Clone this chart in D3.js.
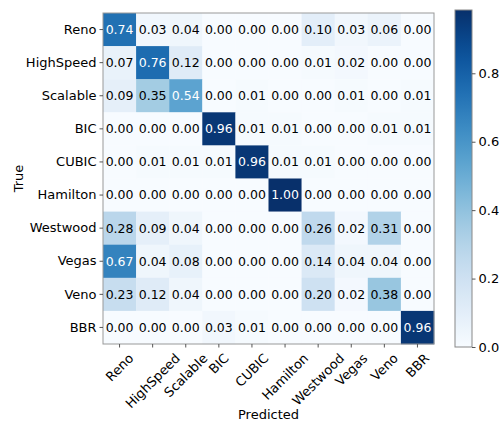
<!DOCTYPE html>
<html>
<head>
<meta charset="utf-8">
<script src="https://cdn.jsdelivr.net/npm/d3@7"></script>
<style>
  body { margin: 0; background: #fff; }
  text { font-family: "DejaVu Sans", sans-serif; fill: #000; }
</style>
</head>
<body>
<div id="chart"></div>
<script>
var w = 499, h = 421;
var labels = ["Reno", "HighSpeed", "Scalable", "BIC", "CUBIC", "Hamilton", "Westwood", "Vegas", "Veno", "BBR"];
var matrix = [
  [0.74, 0.03, 0.04, 0.00, 0.00, 0.00, 0.10, 0.03, 0.06, 0.00],
  [0.07, 0.76, 0.12, 0.00, 0.00, 0.00, 0.01, 0.02, 0.00, 0.00],
  [0.09, 0.35, 0.54, 0.00, 0.01, 0.00, 0.00, 0.01, 0.00, 0.01],
  [0.00, 0.00, 0.00, 0.96, 0.01, 0.01, 0.00, 0.00, 0.01, 0.01],
  [0.00, 0.01, 0.01, 0.01, 0.96, 0.01, 0.01, 0.00, 0.00, 0.00],
  [0.00, 0.00, 0.00, 0.00, 0.00, 1.00, 0.00, 0.00, 0.00, 0.00],
  [0.28, 0.09, 0.04, 0.00, 0.00, 0.00, 0.26, 0.02, 0.31, 0.00],
  [0.67, 0.04, 0.08, 0.00, 0.00, 0.00, 0.14, 0.04, 0.04, 0.00],
  [0.23, 0.12, 0.04, 0.00, 0.00, 0.00, 0.20, 0.02, 0.38, 0.00],
  [0.00, 0.00, 0.00, 0.03, 0.01, 0.00, 0.00, 0.00, 0.00, 0.96]
];
var cbTicks = [0.0, 0.2, 0.4, 0.6, 0.8];
var vmax = 0.985;

var mLeft = 103, mTop = 13, size = 331;

var x = d3.scaleBand().domain(labels).range([mLeft, mLeft + size]);
var y = d3.scaleBand().domain(labels).range([mTop, mTop + size]);
var color = d3.scaleSequential(d3.interpolateBlues).domain([0, vmax]).clamp(true);

var svg = d3.select("#chart").append("svg")
  .attr("width", w)
  .attr("height", h);

// cells
var cells = [];
matrix.forEach(function(row, i) {
  row.forEach(function(v, j) {
    cells.push({ r: labels[i], c: labels[j], v: v });
  });
});

svg.selectAll("rect.cell")
  .data(cells)
  .enter()
  .append("rect")
  .attr("class", "cell")
  .attr("x", function(d) { return x(d.c); })
  .attr("y", function(d) { return y(d.r); })
  .attr("width", x.bandwidth() + 0.3)
  .attr("height", y.bandwidth() + 0.3)
  .attr("fill", function(d) { return color(d.v); });

svg.selectAll("text.val")
  .data(cells)
  .enter()
  .append("text")
  .attr("class", "val")
  .attr("x", function(d) { return x(d.c) + x.bandwidth() / 2; })
  .attr("y", function(d) { return y(d.r) + y.bandwidth() / 2; })
  .attr("text-anchor", "middle")
  .attr("dy", "0.35em")
  .style("font-size", "12.5px")
  .style("fill", function(d) { return d.v > 0.5 ? "#fff" : "#000"; })
  .text(function(d) { return d.v.toFixed(2); });

// frame
svg.append("rect")
  .attr("x", mLeft).attr("y", mTop)
  .attr("width", size).attr("height", size)
  .attr("fill", "none").attr("stroke", "#999").attr("stroke-width", 1);

// Y axis
var yAxis = svg.append("g")
  .attr("transform", "translate(" + mLeft + ",0)")
  .call(d3.axisLeft(y).tickSize(3.5).tickPadding(3));
yAxis.select(".domain").remove();
yAxis.selectAll("text").style("font-size", "13px").style("fill", "#000");
yAxis.selectAll("line").attr("stroke", "#555");

// X axis - labels rotated 45deg, bbox centred on the tick, top just below it
var xAxis = svg.append("g")
  .attr("transform", "translate(0," + (mTop + size) + ")")
  .call(d3.axisBottom(x).tickSize(3.5).tickPadding(3));
xAxis.select(".domain").remove();
xAxis.selectAll("line").attr("stroke", "#555");
var lineH = 14;
xAxis.selectAll("text")
  .style("font-size", "13px")
  .style("fill", "#000")
  .attr("text-anchor", "middle")
  .attr("dy", "0.35em")
  .each(function() {
    var len = this.getComputedTextLength();
    var half = (len + lineH) * Math.SQRT1_2 / 2;
    var cy = 7 + half;
    d3.select(this)
      .attr("y", cy)
      .attr("transform", "rotate(-45,0," + cy + ")");
  });

// axis titles
svg.append("text")
  .attr("x", mLeft + size / 2)
  .attr("y", 419)
  .attr("text-anchor", "middle")
  .style("font-size", "13px")
  .text("Predicted");

svg.append("text")
  .attr("transform", "translate(23," + (mTop + size / 2) + ") rotate(-90)")
  .attr("text-anchor", "middle")
  .style("font-size", "13px")
  .text("True");

// colorbar
var cbX = 455, cbW = 17, cbTop = 10, cbBottom = 347;
var cbScale = d3.scaleLinear().domain([0, vmax]).range([cbBottom, cbTop]);

var defs = svg.append("defs");
var grad = defs.append("linearGradient")
  .attr("id", "cbgrad")
  .attr("x1", 0).attr("y1", 1).attr("x2", 0).attr("y2", 0);
d3.range(0, 1.0001, 0.05).forEach(function(t) {
  grad.append("stop")
    .attr("offset", t)
    .attr("stop-color", color(t * vmax));
});

svg.append("rect")
  .attr("x", cbX).attr("y", cbTop)
  .attr("width", cbW).attr("height", cbBottom - cbTop)
  .attr("fill", "url(#cbgrad)")
  .attr("stroke", "#888").attr("stroke-width", 1);

var cbAxis = svg.append("g")
  .attr("transform", "translate(" + (cbX + cbW) + ",0)")
  .call(d3.axisRight(cbScale).tickValues(cbTicks).tickFormat(d3.format(".1f")).tickSize(3.5).tickPadding(3));
cbAxis.select(".domain").remove();
cbAxis.selectAll("text").style("font-size", "13px").style("fill", "#000");
cbAxis.selectAll("line").attr("stroke", "#555");
</script>
</body>
</html>
